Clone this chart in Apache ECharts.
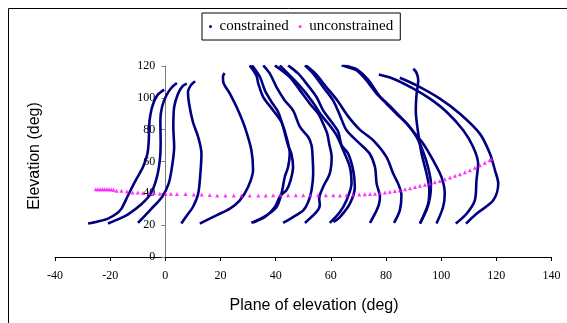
<!DOCTYPE html>
<html>
<head>
<meta charset="utf-8">
<script src="https://cdn.jsdelivr.net/npm/echarts@6/dist/echarts.min.js"></script>
<style>
  html, body { margin: 0; padding: 0; background: #fff; }
  #chart { width: 567px; height: 323px; }
</style>
</head>
<body>
<div id="chart"></div>
<script>
// constrained trials, [plane of elevation, elevation] in deg
const curveA = [[-28.0,21.0],[-24.5,22.3],[-20.8,24.1],[-17.5,27.5],[-15.9,30.4],[-13.5,38.8],[-11.1,47.1],[-8.1,56.5],[-6.5,64.9],[-6.0,73.3],[-5.9,80.0],[-5.7,85.9],[-4.8,94.2],[-2.9,101.6],[-0.4,105.2]];
const curveB = [[-20.8,21.0],[-17.0,23.8],[-13.5,26.8],[-8.7,33.1],[-5.3,39.8],[-3.2,49.2],[-2.0,60.7],[-1.7,71.2],[-1.8,85.9],[-1.2,94.2],[0.4,101.6],[2.3,106.5],[4.2,109.3]];
const curveC = [[-9.9,21.4],[-5.0,30.4],[-1.2,37.7],[1.2,46.1],[2.4,56.5],[3.2,69.1],[2.9,81.7],[3.2,94.2],[4.6,102.6],[6.2,107.2],[7.8,108.9]];
const curveD = [[5.8,21.0],[8.0,26.5],[10.0,31.4],[11.9,39.8],[12.7,52.4],[13.1,64.9],[11.9,75.4],[10.0,84.8],[8.6,96.4],[8.2,103.6],[9.3,108.0],[10.8,110.4]];
const curveE = [[12.5,21.0],[18.5,26.2],[23.4,30.4],[27.0,35.6],[30.0,44.0],[31.8,54.5],[31.2,67.0],[28.8,81.7],[26.4,92.1],[23.4,102.6],[21.0,110.0],[20.9,113.5],[21.5,115.5]];
const curveF = [[30.6,120.4],[33.0,114.1],[33.7,108.9],[35.5,100.5],[39.1,92.1],[42.1,84.8],[43.9,75.4],[45.1,64.9],[44.5,56.5],[43.3,50.3],[42.1,39.8],[40.3,31.4],[36.7,26.2],[31.2,21.4]];
const curveG = [[31.4,120.4],[34.3,113.1],[36.1,104.7],[38.5,97.4],[40.9,91.1],[42.7,81.7],[44.5,70.2],[45.7,64.9],[46.3,56.5],[45.4,48.2],[43.9,41.9],[41.8,38.8],[39.7,31.4],[36.1,25.1],[31.8,21.6]];
const curveH = [[35.5,120.4],[37.9,115.2],[40.3,106.8],[43.3,98.4],[46.3,92.1],[48.8,81.7],[51.8,75.4],[53.0,70.2],[53.4,62.8],[53.6,52.4],[53.0,41.9],[51.8,34.6],[50.0,29.3],[46.3,25.1],[42.7,21.4]];
const curveI = [[39.7,120.4],[45.1,113.1],[48.8,104.7],[52.4,96.3],[55.4,90.1],[57.2,83.8],[58.7,77.5],[59.4,71.2],[60.3,62.8],[59.6,52.4],[57.2,44.0],[55.8,36.7],[56.0,32.5],[54.8,28.3],[50.6,21.4]];
const curveJ = [[41.5,120.4],[46.3,112.0],[50.6,103.7],[54.2,95.3],[56.6,89.0],[59.6,82.7],[62.1,76.4],[64.5,67.0],[66.9,56.5],[67.5,46.1],[65.7,35.6],[63.3,28.3],[59.6,21.4]];
const curveK = [[44.5,120.4],[48.2,115.2],[51.2,108.9],[54.8,100.5],[57.2,92.1],[60.3,84.8],[62.7,78.6],[63.9,70.2],[66.3,64.9],[68.1,54.5],[68.7,44.0],[66.9,33.5],[63.3,25.1],[60.9,22.0]];
const curveL1 = [[50.6,120.4],[53.6,115.2],[57.2,106.8],[60.8,98.4],[63.3,89.0],[65.7,79.6],[70.5,71.2],[74.1,64.9],[76.0,56.5],[76.6,46.1],[77.8,37.7],[77.5,33.5],[76.6,29.3],[74.2,21.4]];
const curveL2 = [[50.9,120.4],[54.5,115.0],[58.5,106.5],[62.5,98.0],[66.0,89.0],[70.5,80.0],[75.4,73.3],[80.2,62.8],[82.6,52.4],[84.4,46.1],[85.6,38.8],[85.0,29.3],[82.9,21.4]];
const curveM1 = [[63.9,120.4],[66.5,119.0],[69.3,117.3],[72.9,111.0],[76.6,102.6],[80.2,96.3],[83.8,90.0],[87.5,83.8],[91.1,75.4],[93.5,66.0],[95.3,56.0],[96.3,46.0],[96.0,38.0],[94.8,30.0],[92.3,21.2]];
const curveM2 = [[64.5,120.4],[67.0,119.3],[69.8,117.5],[73.5,111.5],[77.5,101.5],[81.0,95.5],[84.5,89.3],[88.0,83.0],[90.5,77.5],[93.5,71.2],[97.1,60.7],[100.1,50.3],[101.3,39.8],[100.7,31.4],[98.3,21.0]];
const curveR1 = [[89.9,118.3],[91.0,116.0],[91.7,111.0],[91.1,102.6],[90.8,92.1],[91.7,77.5],[92.9,64.9],[94.7,52.4],[95.7,41.9],[95.3,33.5],[92.9,23.0],[92.3,21.0]];
const curveR2 = [[85.0,112.6],[91.1,107.8],[99.5,99.5],[106.8,90.0],[114.0,77.5],[117.7,64.9],[119.5,54.5],[120.7,46.1],[118.9,35.6],[112.8,27.2],[109.0,21.0]];
const curveR3 = [[77.4,114.6],[82.6,112.0],[89.9,105.8],[95.9,99.5],[102.0,91.1],[108.0,79.6],[111.6,69.1],[113.4,58.6],[112.8,48.2],[112.2,35.6],[109.2,27.2],[105.3,21.0]];

const constrainedCurves = [curveA, curveB, curveC, curveD, curveE, curveF, curveG, curveH, curveI,
  curveJ, curveK, curveL1, curveL2, curveM1, curveM2, curveR1, curveR2, curveR3];

// unconstrained trial
const freeX = [-25.2,-24.4,-23.6,-22.8,-22.0,-21.2,-20.4,-19.6,-18.8,-17.7,-15.9,-13.9,-11.9,-10.0,-8.1,-6.0,-4.1,-2.0,0.1,2.0,4.2,7.3,10.3,13.2,16.1,18.8,21.8,24.8,27.6,30.6,33.7,36.4,39.1,41.8,44.5,47.3,50.0,52.6,55.4,58.2,60.9,63.3,65.7,68.1,70.3,72.3,74.2,76.0,77.8,79.6,81.4,83.2,85.0,86.9,88.7,90.5,92.3,94.1,95.9,97.7,99.5,101.3,103.2,105.0,106.8,108.6,110.4,112.2,114.0,115.8,117.6,118.3];
const freeY = [42.5,42.5,42.5,42.5,42.5,42.5,42.5,42.4,42.2,41.7,41.7,41.1,40.6,40.6,40.2,40.2,40.2,39.8,39.8,39.8,39.6,39.6,39.2,39.2,39.0,38.6,38.6,38.6,38.6,38.6,38.6,38.6,38.8,38.8,38.8,38.8,38.8,38.8,38.8,38.8,38.8,38.6,38.8,39.0,39.2,39.4,39.6,39.8,40.2,40.6,41.0,41.5,42.0,42.5,43.2,44.0,44.8,45.4,46.1,47.0,47.8,48.8,49.9,51.0,52.0,53.2,54.5,56.0,57.6,59.2,60.8,61.4];

const xTicks = [-40, 140, 20];
const yTicks = [0, 120, 20];

const NAVY = '#000080';
const MAGENTA = '#ff00ff';
const SERIF = "'Liberation Serif', 'Times New Roman', serif";
const SANS = "'Liberation Sans', Arial, sans-serif";

const GRID_LEFT = 55;
const GRID_RIGHT = 15.5;
const PLOT_W = 567 - GRID_LEFT - GRID_RIGHT;
// the y axis sits at x = 0, not at the left edge of the grid
const yAxisShift = PLOT_W * (0 - xTicks[0]) / (xTicks[1] - xTicks[0]);

const chart = echarts.init(document.getElementById('chart'));

const series = constrainedCurves.map(c => ({
  name: 'constrained',
  type: 'line',
  data: c,
  smooth: 0.3,
  symbol: 'none',
  lineStyle: { color: NAVY, width: 2.6 },
  itemStyle: { color: NAVY },
  z: 2,
}));
series.push({
  name: 'unconstrained',
  type: 'scatter',
  data: freeX.map((x, i) => [x, freeY[i]]),
  symbol: 'triangle',
  symbolSize: 4,
  itemStyle: { color: MAGENTA },
  z: 3,
});

chart.setOption({
  animation: false,
  backgroundColor: '#fff',
  grid: { left: GRID_LEFT, right: GRID_RIGHT, top: 66, bottom: 66 },
  legend: {
    left: 202,
    top: 13,
    padding: [6, 7, 6, 7],
    itemGap: 10,
    itemWidth: 8,
    itemHeight: 3,
    borderColor: '#000',
    borderWidth: 1,
    textStyle: { fontFamily: SERIF, fontSize: 15, color: '#000' },
    data: [
      { name: 'constrained', icon: 'circle' },
      { name: 'unconstrained', icon: 'circle' },
    ],
  },
  xAxis: {
    type: 'value',
    min: xTicks[0],
    max: xTicks[1],
    interval: xTicks[2],
    splitLine: { show: false },
    axisLine: { onZero: false, lineStyle: { color: '#000', width: 1 } },
    axisTick: { inside: false, length: 4, lineStyle: { color: '#000' } },
    axisLabel: { margin: 13, fontFamily: SERIF, fontSize: 12, color: '#000' },
  },
  yAxis: {
    type: 'value',
    min: yTicks[0],
    max: yTicks[1],
    interval: yTicks[2],
    offset: -yAxisShift,
    splitLine: { show: false },
    axisLine: { onZero: false, lineStyle: { color: '#808080', width: 1 } },
    axisTick: { inside: false, length: 4, lineStyle: { color: '#808080' } },
    axisLabel: { margin: 10, fontFamily: SERIF, fontSize: 12, color: '#000' },
  },
  graphic: [
    {
      type: 'rect',
      shape: { x: 8.5, y: 8.5, width: 700, height: 400 },
      style: { fill: 'none', stroke: '#000', lineWidth: 1 },
      silent: true,
    },
    {
      type: 'text',
      x: 35,
      y: 156,
      rotation: Math.PI / 2,
      style: { text: 'Elevation (deg)', font: '16px ' + SANS, fill: '#000', align: 'center', verticalAlign: 'middle' },
    },
    {
      type: 'text',
      x: 314,
      y: 306,
      style: { text: 'Plane of elevation (deg)', font: '16px ' + SANS, fill: '#000', align: 'center', verticalAlign: 'middle' },
    },
  ],
  series: series,
});
</script>
</body>
</html>
